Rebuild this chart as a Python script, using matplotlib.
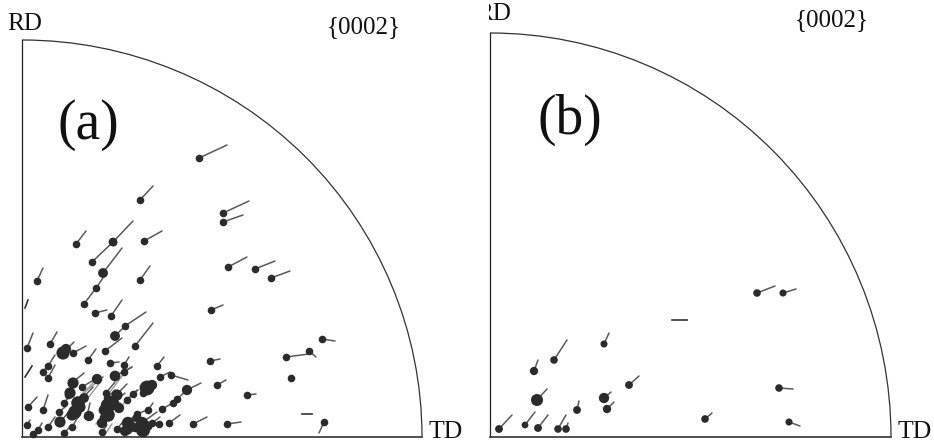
import matplotlib
matplotlib.use('Agg')
import matplotlib.pyplot as plt
from matplotlib.patches import Arc, Rectangle

plt.rcParams['font.family'] = ['Liberation Serif', 'DejaVu Serif']

# everything is read off the picture, in image pixels
# panel (a): spot position and end of its tail
a_x = [76, 113, 144, 92, 103, 37, 140, 96, 84, 95, 111, 125, 115, 135, 50, 27, 62, 73, 105, 88,
       110, 124, 157, 48, 43, 48, 115, 124, 160, 171, 73, 97, 82, 68, 106, 147, 187, 217, 143, 133,
       116, 107, 177, 173, 28, 43, 64, 78, 112, 127, 75, 107, 162, 148, 59, 87, 108, 103, 137, 73,
       60, 128, 143, 152, 159, 169, 193, 227, 48, 72, 128, 135, 117, 64, 102, 145, 27, 38, 33,
       199, 223, 223, 228, 255, 271, 211, 322, 309, 286, 210, 291, 247, 324, 140]
a_y = [244, 242, 241, 262, 273, 281, 280, 288, 304, 313, 316, 326, 336, 346, 344, 348, 354, 353, 351, 360,
       363, 365, 366, 366, 372, 378, 376, 372, 377, 375, 382, 380, 387, 395, 393, 388, 390, 385, 393, 394,
       395, 398, 399, 403, 407, 410, 403, 403, 403, 400, 412, 405, 409, 410, 412, 416, 415, 417, 414, 415,
       422, 422, 422, 423, 424, 423, 424, 424, 427, 427, 430, 428, 429, 433, 432, 431, 425, 430, 434,
       158, 213, 222, 267, 269, 278, 310, 339, 351, 357, 361, 378, 395, 422, 200]
a_tail_x = [86, 133, 162, 113, 122, 43, 150, 103, 96, 107, 122, 146, 125, 153, 57, 33, 74, 86, 122, 96,
            119, 129, 164, 55, 48, 55, 132, 132, 170, 188, 84, 103, 97, 75, 115, 155, 201, 226, 143, 138,
            127, 115, 187, 177, 37, 48, 72, 93, 125, 137, 85, 107, 173, 153, 65, 90, 120, 113, 147, 73,
            68, 137, 157, 160, 159, 180, 207, 241, 55, 78, 133, 135, 122, 70, 107, 150, 30, 42, 33,
            227, 249, 243, 247, 275, 290, 223, 335, 316, 309, 220, 291, 256, 319, 153]
a_tail_y = [231, 221, 231, 242, 248, 268, 266, 278, 288, 310, 300, 312, 326, 323, 332, 333, 342, 346, 338, 349,
            362, 357, 357, 355, 365, 365, 367, 367, 372, 380, 373, 377, 378, 385, 382, 382, 383, 380, 393, 390,
            384, 390, 390, 398, 397, 395, 393, 387, 393, 390, 397, 405, 403, 403, 407, 403, 403, 410, 410, 415,
            413, 413, 412, 417, 424, 415, 417, 422, 417, 417, 425, 428, 423, 427, 425, 427, 420, 423, 434,
            145, 201, 215, 257, 261, 271, 305, 341, 357, 354, 359, 378, 394, 433, 186]

# panel (a): the large overlapping blobs in the dense corner
clump_x = [78, 75, 72, 80, 112, 107, 117, 108, 147, 152, 63, 66, 143, 142, 128, 187, 60, 70, 73, 97, 115, 115, 113, 103, 125, 102,
           84, 119, 104, 133, 148, 137, 89]
clump_y = [403, 412, 415, 407, 403, 405, 395, 415, 388, 385, 353, 349, 430, 423, 423, 390, 422, 393, 383, 379, 376, 336, 242, 273, 431, 423,
           398, 408, 410, 427, 426, 418, 416]
clump_size = [95, 95, 65, 65, 105, 80, 65, 95, 115, 55, 90, 55, 105, 80, 80, 55, 65, 65, 65, 55, 60, 50, 40, 50, 55, 55,
              50, 55, 60, 45, 45, 40, 55]

# panel (a): tails with no visible spot
a_bare_x0 = [25, 25, 302]
a_bare_y0 = [308, 377, 414]
a_bare_x1 = [28, 32, 312]
a_bare_y1 = [300, 366, 414]

# panel (a): faint tails crossing the blobs
faint_x0 = [80, 84, 88, 74, 110, 96, 118, 104]
faint_y0 = [398, 392, 398, 405, 392, 424, 410, 436]
faint_x1 = [97, 100, 102, 88, 122, 106, 130, 112]
faint_y1 = [378, 380, 380, 388, 376, 411, 396, 424]

# panel (b)
b_x = [604, 554, 534, 629, 537, 604, 607, 577, 499, 525, 538, 558, 566, 705, 757, 783, 779, 789]
b_y = [344, 360, 371, 385, 400, 398, 409, 410, 429, 425, 428, 429, 429, 419, 293, 293, 388, 422]
b_tail_x = [609, 567, 538, 639, 547, 611, 614, 579, 512, 535, 548, 566, 568, 712, 775, 796, 793, 800]
b_tail_y = [333, 340, 360, 376, 389, 392, 402, 401, 415, 412, 415, 415, 423, 413, 286, 289, 389, 426]
b_size = [26, 30, 36, 32, 75, 55, 36, 32, 32, 24, 32, 30, 30, 30, 30, 26, 30, 26]

b_bare_x0 = [672]
b_bare_y0 = [320]
b_bare_x1 = [687]
b_bare_y1 = [320]

SPOT = '#2b2b2b'
TAIL = '#5a5a5a'


def draw_frame(ax, left, right, top, bottom):
    rx = right - left
    ry = bottom - top
    ax.plot([left, left], [top, bottom], color='#222222', lw=0.9)
    ax.plot([left, right], [bottom, bottom], color='#333333', lw=1.2)
    # y axis is inverted, so the upper right quarter is 270-360 here
    ax.add_patch(Arc((left, bottom), 2 * rx, 2 * ry, theta1=270, theta2=360, color='#333333', lw=0.9))


def draw_spots(ax, xs, ys, txs, tys, size):
    for x, y, tx, ty in zip(xs, ys, txs, tys):
        ax.plot([x, tx], [y, ty], color=TAIL, lw=1.1, solid_capstyle='round', zorder=2)
    ax.scatter(xs, ys, s=size, color=SPOT, linewidths=0, zorder=3)


fig = plt.figure(figsize=(9.34, 4.44), dpi=100)
ax = fig.add_axes([0, 0, 1, 1])
ax.set_xlim(0, 934)
ax.set_ylim(444, 0)
ax.axis('off')

draw_frame(ax, 22, 422, 40, 437)
draw_frame(ax, 490, 891, 33, 437)

for x0, y0, x1, y1 in zip(faint_x0, faint_y0, faint_x1, faint_y1):
    ax.plot([x0, x1], [y0, y1], color='#999999', lw=1.0, zorder=1)

draw_spots(ax, a_x, a_y, a_tail_x, a_tail_y, 30)
ax.scatter(clump_x, clump_y, s=clump_size, color=SPOT, linewidths=0, zorder=3)
draw_spots(ax, b_x, b_y, b_tail_x, b_tail_y, b_size)

for x0, y0, x1, y1 in zip(a_bare_x0 + b_bare_x0, a_bare_y0 + b_bare_y0, a_bare_x1 + b_bare_x1, a_bare_y1 + b_bare_y1):
    ax.plot([x0, x1], [y0, y1], color='#333333', lw=1.2)

ax.text(7, 24, 'RD', fontsize=18, ha='left', va='center', color='#111111')
rd_b = ax.text(476, 14, 'RD', fontsize=18, ha='left', va='center', color='#111111', clip_on=True)
rd_b.set_clip_path(Rectangle((489, 0), 40, 30, transform=ax.transData))
ax.text(327, 27, '{0002}', fontsize=18, ha='left', va='center', color='#111111')
ax.text(795, 20, '{0002}', fontsize=18, ha='left', va='center', color='#111111')
ax.text(429, 432, 'TD', fontsize=18.5, ha='left', va='center', color='#111111')
ax.text(898, 432, 'TD', fontsize=18.5, ha='left', va='center', color='#111111')
ax.text(57, 125, '(a)', fontsize=40, ha='left', va='center', color='#111111')
ax.text(537, 120, '(b)', fontsize=40, ha='left', va='center', color='#111111')

fig.savefig('out.png', dpi=100)
